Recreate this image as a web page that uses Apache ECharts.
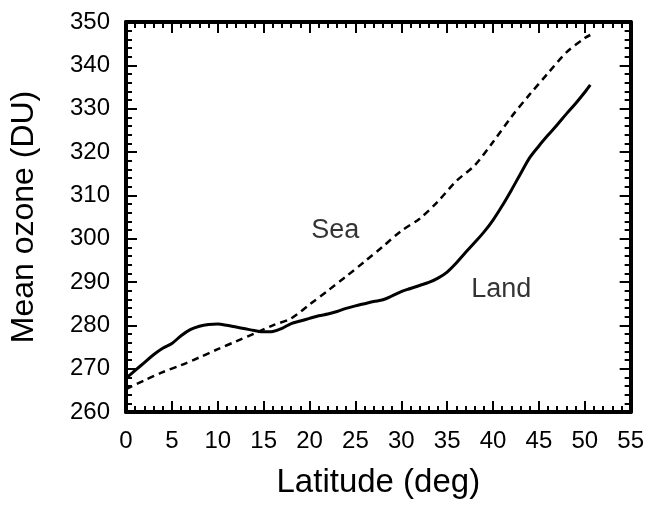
<!DOCTYPE html>
<html>
<head>
<meta charset="utf-8">
<script src="https://cdn.jsdelivr.net/npm/echarts@6/dist/echarts.min.js"></script>
<style>
html,body{margin:0;padding:0;background:#fff;}
#chart{width:647px;height:519px;}
</style>
</head>
<body>
<div id="chart"></div>
<script>
// Latitude (deg)
const landLat = [0,1,2,3,4,5,6,7,8,9,10,11,12,13,14,15,16,17,18,19,20,21,22,23,24,25,26,27,28,29,30,31,32,33,34,35,36,37,38,39,40,41,42,43,44,45,46,47,48,49,50,50.6];
// Mean ozone over land (DU)
const landOzone = [267.8,269.6,271.4,273.2,274.7,275.8,277.6,279.0,279.8,280.2,280.3,280.0,279.6,279.2,278.8,278.5,278.6,279.3,280.4,281.0,281.6,282.2,282.6,283.2,283.9,284.5,285.0,285.5,285.9,286.8,287.8,288.5,289.2,289.9,290.9,292.3,294.4,296.8,299.1,301.5,304.3,307.6,311.2,315.0,318.7,321.4,323.9,326.3,328.8,331.2,333.8,335.5];

const seaLat = [0,2,4,6,8,10,12,14,16,18,20,22,24,26,28,30,32,34,36,38,40,42,44,46,48,50,50.6];
// Mean ozone over sea (DU)
const seaOzone = [265.3,267.3,269.2,270.8,272.6,274.5,276.3,278.1,280.0,281.6,284.8,288.0,291.3,294.7,298.2,301.8,304.6,308.6,313.3,316.9,322.3,328.1,333.3,338.2,343.0,346.3,347.0];

// Annotation labels
const annotNames = ["Sea", "Land"];
const annotLat = [22.8, 40.9];
const annotOzone = [301.8, 288.2];

const xTitle = "Latitude (deg)";
const yTitle = "Mean ozone (DU)";

const FONT = '"Liberation Sans", Arial, sans-serif';

const chart = echarts.init(document.getElementById('chart'), null, {renderer:'canvas'});

function axisCommon(showLabels) {
  return {
    axisLine: {show:true, onZero:false, lineStyle:{color:'#000', width:4}},
    axisTick: {show:true, inside:true, length:11, lineStyle:{color:'#000', width:2}},
    minorTick: {show:true, splitNumber:5, length:6, lineStyle:{color:'#000', width:2}},
    splitLine: {show:false},
    minorSplitLine: {show:false},
    axisLabel: {show:showLabels, color:'#000', fontFamily:FONT, fontSize:24}
  };
}

const x0 = Object.assign({type:'value', min:0, max:55, interval:5, position:'bottom',
  name:xTitle, nameLocation:'middle', nameGap:54,
  nameTextStyle:{color:'#000', fontFamily:FONT, fontSize:33}}, axisCommon(true));
x0.axisLabel.margin = 17;
const x1 = Object.assign({type:'value', min:0, max:55, interval:5, position:'top'}, axisCommon(false));
const y0 = Object.assign({type:'value', min:260, max:350, interval:10, position:'left',
  name:yTitle, nameLocation:'middle', nameGap:86,
  nameTextStyle:{color:'#000', fontFamily:FONT, fontSize:32}}, axisCommon(true));
y0.axisLabel.margin = 16;
const y1 = Object.assign({type:'value', min:260, max:350, interval:10, position:'right'}, axisCommon(false));

chart.setOption({
  animation:false,
  backgroundColor:'#fff',
  grid:{left:123, right:16, top:22, bottom:107, containLabel:false},
  xAxis:[x0, x1],
  yAxis:[y0, y1],
  series:[
    {
      name:'Land', type:'line', xAxisIndex:0, yAxisIndex:0,
      data: landLat.map((x,i)=>[x, landOzone[i]]),
      showSymbol:false, smooth:0.3,
      lineStyle:{color:'#000', width:3}
    },
    {
      name:'Sea', type:'line', xAxisIndex:0, yAxisIndex:0,
      data: seaLat.map((x,i)=>[x, seaOzone[i]]),
      showSymbol:false, smooth:0.3,
      lineStyle:{color:'#000', width:2.5, type:[7,5]}
    },
    {
      name:'labels', type:'scatter', xAxisIndex:0, yAxisIndex:0,
      symbolSize:0, silent:true,
      data: annotNames.map((n,i)=>({name:n, value:[annotLat[i], annotOzone[i]]})),
      label:{show:true, position:'inside', formatter:'{b}', color:'#000', fontFamily:FONT, fontSize:27}
    }
  ]
});
</script>
</body>
</html>
